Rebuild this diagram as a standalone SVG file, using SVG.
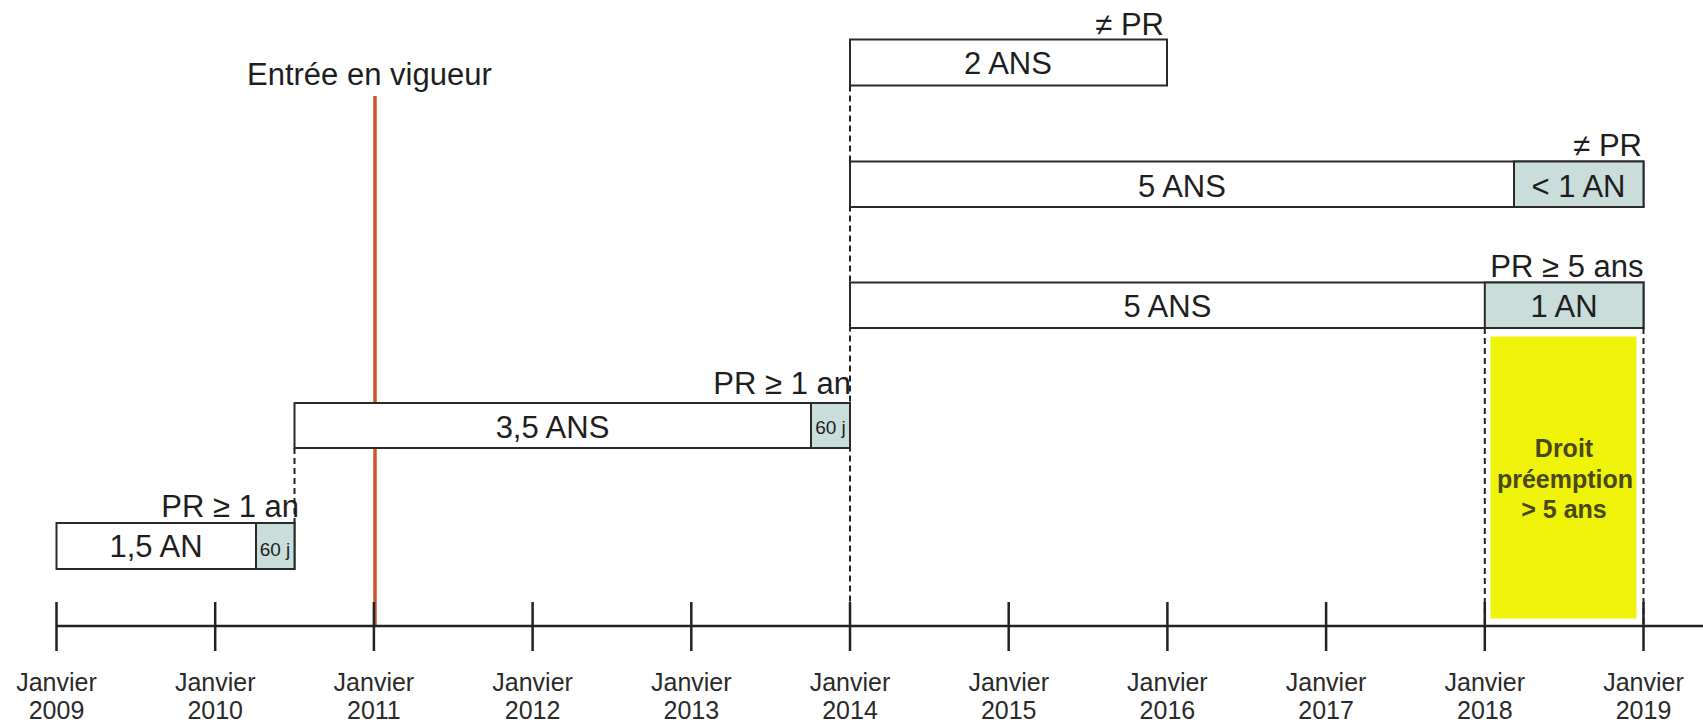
<svg xmlns="http://www.w3.org/2000/svg" width="1703" height="723" viewBox="0 0 1703 723">
<style>
.bg{fill:#ffffff}
.box{fill:#ffffff;stroke:#2a2a2a;stroke-width:2}
.teal{fill:#c9dddb;stroke:#2a2a2a;stroke-width:2}
.t{font-family:"Liberation Sans",Arial,Helvetica,sans-serif;font-size:31px;fill:#1e1e1e}
.mid{text-anchor:middle}
.end{text-anchor:end}
.small{font-size:19px}
.yr{font-size:25px;fill:#2a2a2a}
.dash{stroke:#222;stroke-width:2;stroke-dasharray:6 4;fill:none}
.axis{stroke:#222;stroke-width:2.5;fill:none}
.red{stroke:#d0532b;stroke-width:3.5}
.yel{fill:#eff30a}
.bold{font-weight:bold;font-size:25px;fill:#4a4816}
</style>
<rect class="bg" x="0" y="0" width="1703" height="723"/>

<g id="connectors">
  <line class="dash" x1="294.5" y1="448" x2="294.5" y2="523"/>
  <line class="dash" x1="850" y1="85.5" x2="850" y2="626"/>
  <line class="dash" x1="1484.8" y1="328" x2="1484.8" y2="626"/>
  <line class="dash" x1="1643.5" y1="328" x2="1643.5" y2="626"/>
</g>

<g id="entree-en-vigueur">
  <line class="red" x1="375" y1="96" x2="375" y2="626"/>
  <text class="t" x="247" y="85">Entrée en vigueur</text>
</g>

<g id="timeline">
  <line class="axis" x1="56.5" y1="626" x2="1703" y2="626"/>
  <g class="axis">
    <line x1="56.5" y1="602" x2="56.5" y2="651"/>
    <line x1="215.2" y1="602" x2="215.2" y2="651"/>
    <line x1="373.9" y1="602" x2="373.9" y2="651"/>
    <line x1="532.6" y1="602" x2="532.6" y2="651"/>
    <line x1="691.3" y1="602" x2="691.3" y2="651"/>
    <line x1="850" y1="602" x2="850" y2="651"/>
    <line x1="1008.7" y1="602" x2="1008.7" y2="651"/>
    <line x1="1167.4" y1="602" x2="1167.4" y2="651"/>
    <line x1="1326.1" y1="602" x2="1326.1" y2="651"/>
    <line x1="1484.8" y1="602" x2="1484.8" y2="651"/>
    <line x1="1643.5" y1="602" x2="1643.5" y2="651"/>
  </g>
  <g class="t yr mid">
    <text x="56.5" y="691">Janvier</text><text x="56.5" y="719">2009</text>
    <text x="215.2" y="691">Janvier</text><text x="215.2" y="719">2010</text>
    <text x="373.9" y="691">Janvier</text><text x="373.9" y="719">2011</text>
    <text x="532.6" y="691">Janvier</text><text x="532.6" y="719">2012</text>
    <text x="691.3" y="691">Janvier</text><text x="691.3" y="719">2013</text>
    <text x="850" y="691">Janvier</text><text x="850" y="719">2014</text>
    <text x="1008.7" y="691">Janvier</text><text x="1008.7" y="719">2015</text>
    <text x="1167.4" y="691">Janvier</text><text x="1167.4" y="719">2016</text>
    <text x="1326.1" y="691">Janvier</text><text x="1326.1" y="719">2017</text>
    <text x="1484.8" y="691">Janvier</text><text x="1484.8" y="719">2018</text>
    <text x="1643.5" y="691">Janvier</text><text x="1643.5" y="719">2019</text>
  </g>
</g>

<g id="bail-1-5-an">
  <rect class="box" x="56.5" y="523" width="238" height="46"/>
  <rect class="teal" x="256" y="523" width="38.5" height="46"/>
  <text class="t mid" x="156" y="557">1,5 AN</text>
  <text class="t small mid" x="275" y="556">60 j</text>
  <text class="t end" x="299" y="516.5">PR ≥ 1 an</text>
</g>

<g id="bail-3-5-ans">
  <rect class="box" x="294.5" y="403" width="555.5" height="45"/>
  <rect class="teal" x="811" y="403" width="39" height="45"/>
  <text class="t mid" x="552.5" y="438">3,5 ANS</text>
  <text class="t small mid" x="830.5" y="434">60 j</text>
  <text class="t end" x="851" y="393.5">PR ≥ 1 an</text>
</g>

<g id="bail-2-ans">
  <rect class="box" x="850" y="39.5" width="317" height="46"/>
  <text class="t mid" x="1008" y="74">2 ANS</text>
  <text class="t end" x="1164" y="35">≠ PR</text>
</g>

<g id="bail-5-ans-a">
  <rect class="box" x="850" y="161.5" width="793.5" height="45.5"/>
  <rect class="teal" x="1514" y="161.5" width="129.5" height="45.5"/>
  <text class="t mid" x="1182" y="196.5">5 ANS</text>
  <text class="t mid" x="1578.5" y="196.5">&lt; 1 AN</text>
  <text class="t end" x="1642" y="156">≠ PR</text>
</g>

<g id="bail-5-ans-b">
  <rect class="box" x="850" y="282.5" width="793.5" height="45.5"/>
  <rect class="teal" x="1484.8" y="282.5" width="158.7" height="45.5"/>
  <text class="t mid" x="1167.4" y="316.5">5 ANS</text>
  <text class="t mid" x="1564" y="316.5">1 AN</text>
  <text class="t end" x="1643.5" y="276.5">PR ≥ 5 ans</text>
</g>

<g id="droit-preemption">
  <rect class="yel" x="1490.5" y="336.5" width="146" height="282"/>
  <text class="t bold mid" x="1564" y="456.5">Droit</text>
  <text class="t bold mid" x="1565" y="488">préemption</text>
  <text class="t bold mid" x="1564" y="518">&gt; 5 ans</text>
</g>
</svg>
